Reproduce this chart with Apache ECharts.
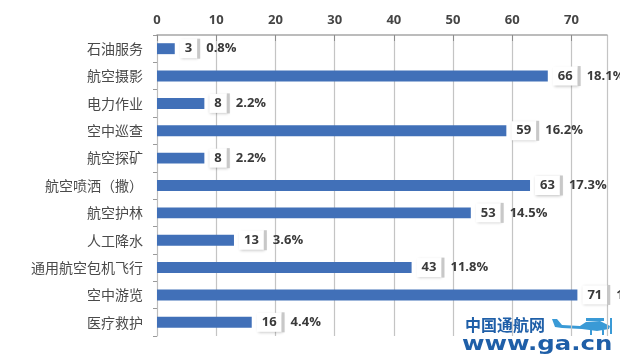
<!DOCTYPE html>
<html>
<head>
<meta charset="utf-8">
<script src="https://cdn.jsdelivr.net/npm/echarts@6/dist/echarts.min.js"></script>
<style>
html,body{margin:0;padding:0;background:#fff;}
#c{width:620px;height:359px;}
</style>
</head>
<body>
<div id="c"></div>
<script>
var categories = ['石油服务','航空摄影','电力作业','空中巡查','航空探矿','航空喷洒（撒）','航空护林','人工降水','通用航空包机飞行','空中游览','医疗救护'];
var values = [3, 66, 8, 59, 8, 63, 53, 13, 43, 71, 16];
var percents = ['0.8%','18.1%','2.2%','16.2%','2.2%','17.3%','14.5%','3.6%','11.8%','19.5%','4.4%'];
var tickLabels = ['0','10','20','30','40','50','60','70'];

var chart = echarts.init(document.getElementById('c'), null, {renderer:'canvas'});
chart.setOption({
  animation:false,
  backgroundColor:'#ffffff',
  grid:{left:157, top:35, right:13, bottom:23},
  xAxis:{
    type:'value', position:'top', min:0, max:76, interval:10,
    axisLine:{show:true, lineStyle:{color:'#a6a6a6', width:1.5}},
    axisTick:{show:true, inside:true, length:6, lineStyle:{color:'#8c8c8c'}},
    axisLabel:{showMaxLabel:false, color:'#454545', fontSize:13, fontWeight:'bold', fontFamily:'Open Sans, DejaVu Sans, sans-serif', margin:8,
      formatter:function(v){ var i = Math.round(v/10); return tickLabels[i] !== undefined && v % 10 === 0 ? tickLabels[i] : ''; }},
    splitLine:{show:true, lineStyle:{color:'#c4c4c4', width:1.2}}
  },
  yAxis:{
    type:'category', data:categories, inverse:true,
    axisLine:{show:true, lineStyle:{color:'#bcbcbc'}},
    axisTick:{show:true, length:4, lineStyle:{color:'#9a9a9a'}},
    axisLabel:{color:'#4a4a4a', fontSize:14, margin:14, fontFamily:'Noto Sans CJK SC, sans-serif'}
  },
  series:[{
    type:'bar', data:values, barCategoryGap:'60%',
    itemStyle:{color:'#4170b8'},
    label:{
      show:true, position:'right', distance:5,
      formatter:function(p){ return '{v|' + p.value + '}{s|}{p|' + percents[p.dataIndex] + '}'; },
      rich:{
        v:{color:'#3a3a3a', fontSize:13, fontWeight:'bold', fontFamily:'Open Sans, DejaVu Sans, sans-serif', backgroundColor:'#ffffff', padding:[3,5,3,5], shadowColor:'rgba(0,0,0,0.25)', shadowBlur:3, shadowOffsetX:1, shadowOffsetY:1},
        s:{width:3, height:20, backgroundColor:'#c8c8c8'},
        p:{color:'#3a3a3a', fontSize:13, fontWeight:'bold', fontFamily:'Open Sans, DejaVu Sans, sans-serif', padding:[0,0,0,6]}
      }
    }
  }],
  graphic:[
    {type:'text', x:465, y:317, style:{text:'中国通航网', fill:'#1f5fa8', font:'bold 16px "Noto Sans CJK SC", sans-serif'}},
    {type:'text', x:462, y:335, scaleX:1.22, style:{text:'www.ga.cn', fill:'#1f5fa8', font:'bold 20px "DejaVu Sans", sans-serif'}},
    {type:'polygon', x:552, y:316, shape:{points:[[0,3],[5,3],[10,9],[28,10],[34,6],[48,5],[54,8],[58,10],[57,13],[45,15],[30,13],[10,12],[3,11]]}, style:{fill:'#3a9ad6'}},
    {type:'rect', x:552, y:316, shape:{x:34,y:2,width:18,height:3}, style:{fill:'#3a9ad6'}},
    {type:'rect', x:552, y:316, shape:{x:38,y:14,width:2,height:5}, style:{fill:'#3a9ad6'}},
    {type:'rect', x:552, y:316, shape:{x:50,y:14,width:2,height:5}, style:{fill:'#3a9ad6'}},
    {type:'rect', x:610, y:318, shape:{x:0,y:0,width:2,height:16}, style:{fill:'#3a9ad6'}}
  ]
});
</script>
</body>
</html>
